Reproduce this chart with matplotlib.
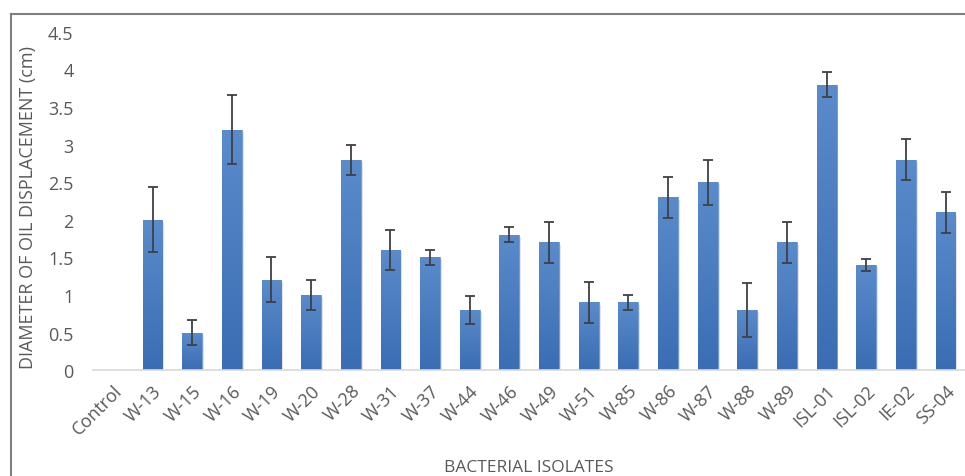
import numpy as np
import matplotlib.pyplot as plt
from matplotlib.colors import LinearSegmentedColormap
from matplotlib.lines import Line2D

# Oil displacement per isolate (cm) with error bars
isolates = ['Control', 'W-13', 'W-15', 'W-16', 'W-19', 'W-20', 'W-28', 'W-31', 'W-37',
            'W-44', 'W-46', 'W-49', 'W-51', 'W-85', 'W-86', 'W-87', 'W-88', 'W-89',
            'ISL-01', 'ISL-02', 'IE-02', 'SS-04']
diameter = [0, 2.0, 0.5, 3.2, 1.2, 1.0, 2.8, 1.6, 1.5, 0.8, 1.8, 1.7, 0.9, 0.9,
            2.3, 2.5, 0.8, 1.7, 3.8, 1.4, 2.8, 2.1]
error = [0, 0.43, 0.17, 0.46, 0.3, 0.2, 0.2, 0.27, 0.1, 0.18, 0.1, 0.27, 0.27, 0.1,
         0.27, 0.3, 0.36, 0.27, 0.17, 0.08, 0.27, 0.27]
yticks = [0, 0.5, 1, 1.5, 2, 2.5, 3, 3.5, 4, 4.5]

plt.rcParams['font.family'] = ['Open Sans', 'DejaVu Sans']
grey = '#595959'

fig = plt.figure(figsize=(9.65, 4.77), dpi=100)
ax = fig.add_axes([0.0964, 0.222, 0.904, 0.709])

x = np.arange(len(isolates))
bars = ax.bar(x, diameter, width=0.5, color='#4F81BD', edgecolor='#6f9ad0', linewidth=0.6, zorder=2)

# vertical gradient fill inside each bar
grad = np.linspace(0, 1, 100).reshape(-1, 1)
cmap = LinearSegmentedColormap.from_list('b', ['#3a6db3', '#5a8bcb'])
for b in bars:
    if b.get_height() <= 0:
        continue
    x0, w, h = b.get_x(), b.get_width(), b.get_height()
    # soft shadow to the right
    ax.bar(x0 + w / 2 + 0.05, h, width=w, bottom=-0.03, color='#c8c8c8', alpha=0.5, zorder=1)
    im = ax.imshow(grad, extent=[x0, x0 + w, 0, h], aspect='auto', origin='lower',
                   cmap=cmap, zorder=2.5)
    im.set_clip_path(b)

err = np.array(error)
m = err > 0
ax.errorbar(x[m], np.array(diameter)[m], yerr=err[m], fmt='none', ecolor='#404040',
            elinewidth=1.3, capsize=3.8, capthick=1.3, zorder=3)

ax.set_xlim(-0.5, len(isolates) - 0.5)
ax.set_ylim(0, 4.5)
ax.set_yticks(yticks)
ax.set_yticklabels([f'{t:g}' for t in yticks], fontsize=13, color=grey)
ax.set_xticks(x)
ax.set_xticklabels(isolates, rotation=45, ha='right', rotation_mode='anchor',
                   fontsize=13, color=grey)
ax.tick_params(length=0, pad=8)
ax.tick_params(axis='y', pad=14)

for s in ['top', 'right', 'left']:
    ax.spines[s].set_visible(False)
ax.spines['bottom'].set_color('#d9d9d9')
ax.spines['bottom'].set_linewidth(1.2)

ax.set_ylabel('DIAMETER OF OIL DISPLACEMENT (cm)', fontsize=13, color=grey)
ax.yaxis.set_label_coords(-0.064, 0.485)
ax.set_xlabel('BACTERIAL ISOLATES', fontsize=12.5, color=grey)
ax.xaxis.set_label_coords(0.5, -0.262)

# outer chart frame (cropped in the original)
fig.add_artist(Line2D([11 / 965, 11 / 965], [0, 1 - 15 / 477], color='#7f7f7f', lw=1.5))
fig.add_artist(Line2D([11 / 965, 1], [1 - 15 / 477, 1 - 15 / 477], color='#7f7f7f', lw=1.5))

fig.savefig('out.png', dpi=100)
